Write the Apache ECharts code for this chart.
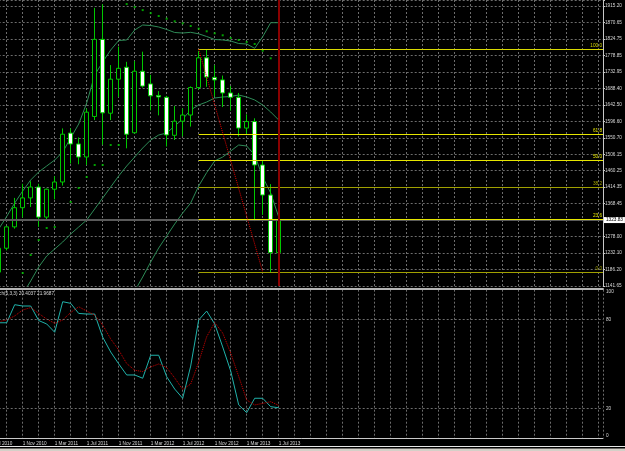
<!DOCTYPE html>
<html><head><meta charset="utf-8">
<script src="https://cdn.jsdelivr.net/npm/echarts@6/dist/echarts.min.js"></script>
<style>html,body{margin:0;padding:0;background:#000;}#c{width:625px;height:451px;}</style>
</head><body><div id="c"></div>
<script>
// ---- data (index 0 = Jul 2010 ... 36 = Jul 2013) ----
const months = ['Jul 2010','Aug 2010','Sep 2010','Oct 2010','Nov 2010','Dec 2010','Jan 2011','Feb 2011','Mar 2011','Apr 2011','May 2011','Jun 2011','Jul 2011','Aug 2011','Sep 2011','Oct 2011','Nov 2011','Dec 2011','Jan 2012','Feb 2012','Mar 2012','Apr 2012','May 2012','Jun 2012','Jul 2012','Aug 2012','Sep 2012','Oct 2012','Nov 2012','Dec 2012','Jan 2013','Feb 2013','Mar 2013','Apr 2013','May 2013','Jun 2013','Jul 2013'];
const openP  = [null,1180,1246,1305,1358,1385,1415,1332,1409,1429,1564,1534,1498,1610,1823,1619,1713,1746,1565,1735,1700,1668,1663,1558,1597,1614,1690,1772,1718,1711,1675,1663,1578,1596,1476,1393,1234];
const closeP = [null,1246,1305,1358,1385,1415,1332,1409,1429,1561,1534,1498,1622,1823,1620,1713,1743,1561,1735,1694,1667,1664,1559,1597,1614,1690,1772,1719,1711,1675,1663,1578,1596,1476,1393,1234,1323.83];
const lowP   = [null,1157,1240,1300,1331,1360,1305,1323,1381,1419,1480,1478,1476,1600,1532,1600,1664,1522,1563,1690,1627,1613,1527,1545,1555,1582,1684,1692,1665,1636,1626,1555,1562,1321,1338,1180.5,1208];
const highP  = [null,1250,1307,1385,1424,1431,1424,1411,1445,1577,1577,1552,1632,1910,1920,1752,1803,1761,1763,1789,1725,1680,1667,1639,1632,1693,1791,1796,1752,1723,1694,1675,1616,1605,1487,1423,1345];
const bbUpper  = [null,1299.1,1333.7,1370.9,1404.1,1434.5,1456.6,1473.2,1489.7,1511.9,1550.5,1589.2,1647.2,1724.6,1760.5,1793.6,1819.9,1821.3,1848.9,1862.7,1861.3,1857.2,1850.3,1842,1840.6,1842.5,1838.4,1830.9,1822.7,1821.3,1818.5,1811.6,1810.2,1798.3,1830.4,1869.1,1869.1];
const bbMiddle = [null,null,null,null,1119.5,1155.5,1194.1,1224.5,1243.9,1263.2,1285.3,1304.6,1324,1354.4,1384.8,1415.2,1445.6,1473.2,1498,1522.9,1545,1558.8,1564.3,1583.7,1603,1627.9,1641.7,1650,1661,1663.8,1665.2,1669.3,1663.8,1655.6,1641.7,1622.4,1600.3];
const bbLower  = [null,null,null,null,null,null,null,null,null,null,null,null,null,null,null,null,null,null,1127.8,1166.5,1208,1246.6,1279.8,1313,1343.3,1371,1418,1455,1487,1498,1514.6,1531.2,1528.4,1503.5,1442.8,1398.6,1332.3];
const sar      = [null,null,null,null,1177.6,1227.3,1268.7,1301.9,1304.6,1324,1373.7,1412.4,1442.8,1476,1476,1531.2,1531.2,1920.5,1912.2,1903.9,1895.6,1887.6,1880.1,1872.9,1867.4,1859.9,1852.5,1845.3,1839.8,1834.3,1826.8,1821.3,1815.8,1810.3,1791.7,1770.7,null];
const stochMain   = [null,77.7,77.7,89.9,89,89,79.2,76.9,71.3,91.9,90.8,84,83.6,83.6,68,58,50,42.5,42.5,40.3,55.8,55.8,41.3,33,26.8,48.5,79.6,85.6,76.9,61.4,45.2,22.3,17.1,26.8,26.8,21.1,20.4];
const stochSignal = [null,78.4,79.6,82.3,86.3,88,84,80.2,77.3,79.6,84.6,88.5,85.6,82.9,76.2,66.8,59.3,50.2,45.7,44.8,47.9,49.9,47.5,40.5,32.7,36.4,51.2,68.3,77.9,70.8,57.3,41.5,25.6,22.3,23.3,24.5,22.0];
const priceTicks = ['1141.65','1186.20','1232.10','1278.00','','1368.45','1414.35','1460.25','1506.15','1550.70','1596.60','1642.50','1688.40','1732.95','1778.85','1824.75','1870.65','1915.20'];
const timeLabels = ['1 Jul 2010','1 Nov 2010','1 Mar 2011','1 Jul 2011','1 Nov 2011','1 Mar 2012','1 Jul 2012','1 Nov 2012','1 Mar 2013','1 Jul 2013'];
const stochTicks = [0,20,80,100];
const stochLevels = [20,80];
const fiboRatios = [100.0,61.8,50.0,38.2,23.6,0.0];
const fiboHigh = 1795.7, fiboLow = 1180.5;
const fiboStart = 'Sep 2012', fiboEnd = 'May 2013';
const bidPrice = 1323.83;
const currentBar = 'Jul 2013';
const stochText = 'Stoch(5,3,3) 20.4037 21.9687';

// ---- axis configuration ----
const priceMin = 1141.65, priceMax = 1931.78;
const priceStep = (1915.20 - 1141.65) / 17;
const labelAxisMax = (priceMax - priceMin) / priceStep;
const xMax = 76.5375;
const FONT = 'Liberation Sans';
const FS = 4.7;
const gridDash = {color:'#6c6c6c', type:[2,2], width:1};

const mi = m => months.indexOf(m);
const pairs = arr => arr.map((v,i)=> v==null ? null : [i,v]).filter(Boolean);
const candles = months.map((m,i)=> openP[i]==null ? null : [i, openP[i], closeP[i], lowP[i], highP[i]]).filter(Boolean);

const fiboColors = {'100.0':'#d8d800','61.8':'#e6e600','50.0':'#e6e600','38.2':'#a0a000','23.6':'#e6e600','0.0':'#a0a000'};
const fiboLines = fiboRatios.map(r => {
  const p = fiboLow + r/100*(fiboHigh - fiboLow);
  const t = r.toFixed(1);
  const ls = {color:fiboColors[t], width:1, type:'solid'};
  return [{coord:[mi(fiboStart), p], lineStyle:ls,
           label:{show:true, position:'insideEndTop', formatter:t, color:fiboColors[t], fontSize:FS, fontFamily:FONT, distance:[1,1]}},
          {coord:[xMax, p], lineStyle:ls}];
});

const chart = echarts.init(document.getElementById('c'), null, {renderer:'canvas'});
chart.setOption({
  backgroundColor:'#000',
  animation:false,
  title:{text:stochText, left:-8, top:291, padding:0, textStyle:{color:'#d8d8d8', fontSize:FS, fontWeight:'normal', fontFamily:FONT}},
  grid:[
    {left:-9.3, right:22, top:0, height:286, containLabel:false, outerBoundsMode:'none'},
    {left:-9.3, right:22, top:289.7, height:148.3, containLabel:false, outerBoundsMode:'none'}
  ],
  xAxis:[
    {gridIndex:0, type:'value', min:0, max:xMax, interval:2, offset:3,
     axisLine:{show:true, onZero:false, lineStyle:{color:'#b4b4b4', width:2}},
     axisTick:{show:false}, axisLabel:{show:false}, splitLine:{show:true, lineStyle:gridDash}},
    {gridIndex:1, type:'value', min:0, max:xMax, interval:2,
     axisLine:{show:true, onZero:false, lineStyle:{color:'#c8c8c8', width:1}},
     axisTick:{show:false},
     axisLabel:{show:true, color:'#d8d8d8', fontSize:FS, fontFamily:FONT, align:'left', margin:3,
       showMinLabel:true, showMaxLabel:true,
       formatter:v => (Number.isInteger(v) && v % 4 === 0 && v/4 < timeLabels.length) ? timeLabels[v/4] : ''},
     splitLine:{show:true, lineStyle:gridDash}}
  ],
  yAxis:[
    {gridIndex:0, type:'value', min:priceMin, max:priceMax, show:false},
    {gridIndex:0, type:'value', position:'right', min:0, max:labelAxisMax, interval:1,
     axisLine:{show:true, lineStyle:{color:'#c8c8c8', width:1}},
     axisTick:{show:true, length:2, lineStyle:{color:'#c8c8c8'}},
     axisLabel:{color:'#d8d8d8', fontSize:FS, fontFamily:FONT, margin:2, showMinLabel:true, showMaxLabel:true,
       formatter:v => Number.isInteger(v) ? (priceTicks[v] || '') : ''},
     splitLine:{show:true, lineStyle:gridDash}},
    {gridIndex:1, type:'value', position:'right', min:0, max:100, interval:20,
     axisLine:{show:true, lineStyle:{color:'#c8c8c8', width:1}},
     axisTick:{show:false},
     axisLabel:{color:'#d8d8d8', fontSize:FS, fontFamily:FONT, margin:3, showMinLabel:true, showMaxLabel:true,
       verticalAlignMaxLabel:'top', verticalAlignMinLabel:'bottom',
       formatter:v => stochTicks.includes(v) ? String(v) : ''},
     splitLine:{show:false}}
  ],
  series:[
    {type:'line', name:'BB lower', xAxisIndex:0, yAxisIndex:0, data:pairs(bbLower), symbol:'none', z:1,
     lineStyle:{color:'#2e8b57', width:1},
     markLine:{silent:true, symbol:['none','none'], animation:false,
       data:[
         {yAxis:bidPrice, lineStyle:{color:'#5a5a5a', width:2, type:'solid'},
          label:{show:true, position:'end', formatter:bidPrice.toFixed(2), color:'#000', backgroundColor:'#fff', padding:[1,2,0,2], fontSize:FS, fontFamily:FONT, distance:1}},
         ...fiboLines,
         [{coord:[mi(fiboStart), fiboHigh], lineStyle:{color:'#e00000', width:1, type:'dotted'}, label:{show:false}},
          {coord:[mi(fiboEnd), fiboLow], lineStyle:{color:'#e00000', width:1, type:'dotted'}}],
         {xAxis:mi(currentBar), lineStyle:{color:'#8b0000', width:2, type:'solid'}, label:{show:false}}
       ]}},
    {type:'line', name:'BB upper', data:pairs(bbUpper), symbol:'none', z:1, lineStyle:{color:'#2e8b57', width:1}},
    {type:'line', name:'BB middle', data:pairs(bbMiddle), symbol:'none', z:1, lineStyle:{color:'#2e8b57', width:1}},
    {type:'scatter', name:'SAR', data:pairs(sar), symbol:'rect', symbolSize:2, z:2, itemStyle:{color:'#00c800'}},
    {type:'candlestick', name:'XAUUSD', data:candles, barWidth:5, z:3,
     itemStyle:{color:'#000', color0:'#fff', borderColor:'#00c800', borderColor0:'#00c800', borderWidth:1}},
    {type:'line', name:'Main', xAxisIndex:1, yAxisIndex:2, data:pairs(stochMain), symbol:'none',
     lineStyle:{color:'#20b2aa', width:1},
     markLine:{silent:true, symbol:['none','none'], animation:false, label:{show:false},
       lineStyle:gridDash, data:stochLevels.map(v=>({yAxis:v}))}},
    {type:'line', name:'Signal', xAxisIndex:1, yAxisIndex:2, data:pairs(stochSignal), symbol:'none',
     lineStyle:{color:'#d00000', width:1, type:'dotted'}}
  ],
  graphic:[
    {type:'rect', shape:{x:0, y:446, width:625, height:1}, style:{fill:'#e8e8e8'}, silent:true},
    {type:'rect', shape:{x:0, y:448.5, width:625, height:3}, style:{fill:'#d4d0c8'}, silent:true}
  ]
});
</script></body></html>
